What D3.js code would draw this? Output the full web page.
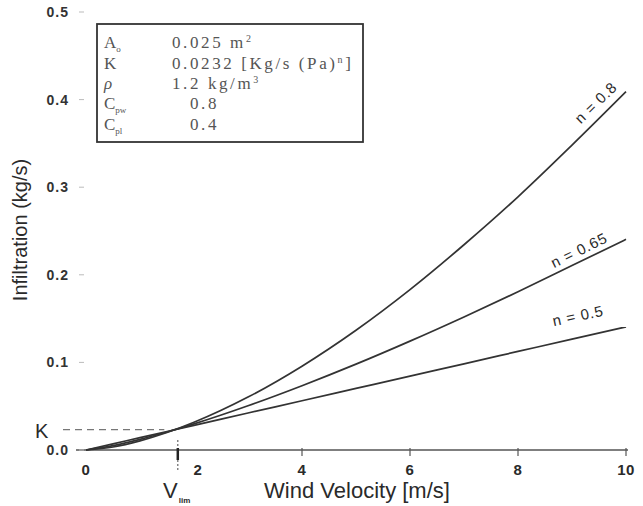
<!DOCTYPE html>
<html><head><meta charset="utf-8">
<script src="https://cdn.jsdelivr.net/npm/d3@7"></script>
<style>
body{margin:0;background:#fff;}
svg{display:block;}
</style></head>
<body><svg id="c" width="643" height="506"></svg>
<script>
// ---- data ----
const velocity = [0, 0.5, 1, 1.5, 2, 3, 4, 5, 6, 7, 8, 9, 10];
const flowN050 = [0, 0.0070, 0.0141, 0.0211, 0.0281, 0.0422, 0.0562, 0.0703, 0.0844, 0.0984, 0.1125, 0.1266, 0.1406];
const flowN065 = [0, 0.0049, 0.0121, 0.0205, 0.0298, 0.0505, 0.0734, 0.0980, 0.1243, 0.1519, 0.1806, 0.2105, 0.2405];
const flowN080 = [0, 0.0034, 0.0104, 0.0199, 0.0316, 0.0604, 0.0957, 0.1367, 0.1831, 0.2343, 0.2890, 0.3480, 0.4090];
const seriesNames = ["n = 0.5", "n = 0.65", "n = 0.8"];
const xTicks = [0, 2, 4, 6, 8, 10];
const yTicks = [0.0, 0.1, 0.2, 0.3, 0.4, 0.5];
const yTickLabels = ["0.0", "0.1", "0.2", "0.3", "0.4", "0.5"];
const kValue = 0.0232;
const vLim = 1.7;
const legendSymbols = ["A", "K", "ρ", "C", "C"];
const legendSubs = ["o", "", "", "pw", "pl"];
const legendValues = ["0.025 m", "0.0232 [Kg/s (Pa)", "1.2 kg/m", "0.8", "0.4"];
const legendSups = ["2", "n", "3", "", ""];
const legendTails = ["", "]", "", "", ""];

const svg = d3.select("#c");
const x = d3.scaleLinear().domain([0, 10]).range([86, 626]);
const y = d3.scaleLinear().domain([0, 0.5]).range([450, 12]);
const ink = "#2a2a2a";
const sans = "Liberation Sans, Arial, Helvetica, sans-serif";

// x axis line
svg.append("line").attr("x1", x(0) - 10).attr("x2", x(10) + 2)
  .attr("y1", y(0)).attr("y2", y(0))
  .attr("stroke", "#555").attr("stroke-width", 1.3);

// x ticks
svg.selectAll(".xt").data(xTicks.filter(d => d > 2)).enter().append("line")
  .attr("x1", d => x(d)).attr("x2", d => x(d))
  .attr("y1", y(0) - 2).attr("y2", y(0) + 6)
  .attr("stroke", "#555").attr("stroke-width", 1.2);

// x tick labels
svg.selectAll(".xl").data(xTicks).enter().append("text")
  .attr("x", d => d === 2 ? x(d) + 4 : x(d)).attr("y", 475)
  .attr("text-anchor", "middle")
  .attr("font-family", sans).attr("letter-spacing", 0.5)
  .attr("font-weight", "bold").attr("font-size", 15).attr("fill", ink)
  .text(d => d);

// y ticks (faint)
svg.selectAll(".yt").data(yTicks).enter().append("line")
  .attr("x1", 79).attr("x2", 84)
  .attr("y1", d => y(d)).attr("y2", d => y(d))
  .attr("stroke", "#bbb").attr("stroke-width", 1);

// y tick labels
svg.selectAll(".yl").data(yTicks).enter().append("text")
  .attr("x", 69).attr("y", d => y(d) + 5)
  .attr("text-anchor", "end")
  .attr("font-family", sans).attr("letter-spacing", 1)
  .attr("font-weight", "bold").attr("font-size", 14).attr("fill", "#333")
  .text((d, i) => yTickLabels[i]);

// K dashed reference
svg.append("line").attr("x1", 63).attr("x2", x(1.45))
  .attr("y1", y(kValue)).attr("y2", y(kValue))
  .attr("stroke", "#777").attr("stroke-width", 1.2)
  .attr("stroke-dasharray", "7,5");
svg.append("text").attr("x", 35).attr("y", y(kValue) + 8)
  .attr("font-family", sans)
  .attr("font-size", 20).attr("fill", ink).text("K");

// V_lim marker
svg.append("line").attr("x1", x(vLim)).attr("x2", x(vLim))
  .attr("y1", y(0) - 10).attr("y2", y(0) + 22)
  .attr("stroke", "#666").attr("stroke-width", 1.2).attr("stroke-dasharray", "2,2");
svg.append("line").attr("x1", x(vLim)).attr("x2", x(vLim))
  .attr("y1", y(0) - 2).attr("y2", y(0) + 10)
  .attr("stroke", "#222").attr("stroke-width", 2.5);
const vt = svg.append("text").attr("x", 163).attr("y", 498)
  .attr("font-family", sans)
  .attr("font-size", 22).attr("fill", ink);
vt.append("tspan").text("V");
vt.append("tspan").attr("font-size", 8).attr("dx", 1).attr("dy", 5).attr("font-weight", "bold").text("lim");

// axis titles
svg.append("text").attr("x", 357).attr("y", 498).attr("text-anchor", "middle")
  .attr("font-family", sans)
  .attr("font-size", 22).attr("fill", ink).text("Wind Velocity [m/s]");
svg.append("text").attr("transform", "translate(27,230) rotate(-90)")
  .attr("text-anchor", "middle")
  .attr("font-family", sans)
  .attr("font-size", 20).attr("fill", ink).text("Infiltration (kg/s)");

// curves
const allSeries = [flowN050, flowN065, flowN080];
const line = d3.line().x((d, i) => x(velocity[i])).y(d => y(d)).curve(d3.curveMonotoneX);
svg.selectAll(".curve").data(allSeries).enter().append("path")
  .attr("d", d => line(d)).attr("fill", "none")
  .attr("stroke", "#333").attr("stroke-width", 1.7);

// curve labels (centred a little above each curve)
const labelPos = [
  {v: 9.11, off: 22, ang: -12},
  {v: 9.13, off: 12, ang: -26},
  {v: 9.44, off: 19, ang: -44}
];
svg.selectAll(".cl").data(seriesNames).enter().append("text")
  .attr("transform", (d, i) => {
    const p = labelPos[i];
    const idx = velocity.indexOf(9);
    const vy = allSeries[i][idx] + (allSeries[i][idx + 1] - allSeries[i][idx]) * (p.v - 9);
    return `translate(${x(p.v)},${y(vy) - p.off}) rotate(${p.ang})`;
  })
  .attr("text-anchor", "middle").attr("dy", "0.35em")
  .attr("font-family", sans).attr("letter-spacing", 0.8)
  .attr("font-size", 15).attr("fill", ink)
  .text(d => d);

// legend box
const box = svg.append("g");
box.append("rect").attr("x", 97).attr("y", 24).attr("width", 266).attr("height", 118)
  .attr("fill", "none").attr("stroke", "#333").attr("stroke-width", 1.8);
const rowY = [48, 69, 89, 109, 130];
const serif = "Liberation Serif, Times New Roman, serif";
legendSymbols.forEach((s, i) => {
  const t = box.append("text").attr("x", 104).attr("y", rowY[i])
    .attr("font-family", serif)
    .attr("font-size", 17).attr("fill", "#555");
  t.append("tspan").attr("font-style", i === 2 ? "italic" : "normal").text(s);
  if (legendSubs[i]) t.append("tspan").attr("font-size", 9).attr("dy", 4).text(legendSubs[i]);
  const vtx = box.append("text").attr("x", i >= 3 ? 190 : 172).attr("y", rowY[i])
    .attr("font-family", serif).attr("letter-spacing", 2.6)
    .attr("font-size", 17).attr("fill", "#555");
  vtx.append("tspan").text(legendValues[i]);
  if (legendSups[i]) vtx.append("tspan").attr("font-size", 10).attr("dy", -6).text(legendSups[i]);
  if (legendTails[i]) vtx.append("tspan").attr("dy", 6).text(legendTails[i]);
});
</script>
</body></html>
